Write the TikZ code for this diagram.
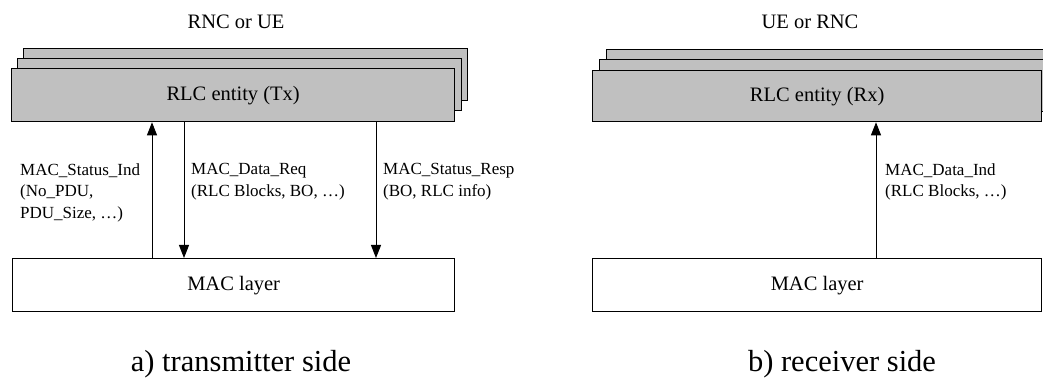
\documentclass[tikz,border=0pt]{standalone}
\usepackage{fontspec}
\setmainfont{Liberation Serif}
\usetikzlibrary{arrows.meta}
\definecolor{rlcgray}{RGB}{192,192,192}
\begin{document}
\begin{tikzpicture}[x=1pt,y=-1pt,
  layerbox/.style={draw=black, line width=1.3pt, anchor=north west, inner sep=0pt, minimum height=52pt, font=\fontsize{20.5}{24}\selectfont},
  rlcbox/.style={layerbox, fill=rlcgray},
  boxtext/.style={font=\fontsize{20.5}{24}\selectfont, anchor=base, inner sep=0pt},
  sigtext/.style={font=\fontsize{17}{21.5}\selectfont, align=left, anchor=north west, inner sep=0pt},
  captext/.style={font=\fontsize{30.5}{36}\selectfont, anchor=base, inner sep=0pt},
  sig/.style={line width=1pt, -{Triangle[length=13pt,width=10pt]}}
]
\useasboundingbox (0,0) rectangle (1043,379);
\clip (0,0) rectangle (1043,379);
\fill[white] (0,0) rectangle (1043,379);

% ---- a) transmitter side
\node[boxtext] (ta) at (236,29) {RNC or UE};
\node[rlcbox, minimum width=444pt] (backa) at (23,48) {};
\node[rlcbox, minimum width=444pt] (mida) at (17,58) {};
\node[rlcbox, minimum width=443pt, minimum height=53pt] (rlca) at (11,68) {RLC entity (Tx)};
\node[layerbox, minimum width=442pt, minimum height=53pt] (maca) at (12,258) {MAC layer};

\coordinate (xa1) at (152,0);
\coordinate (xa2) at (184,0);
\coordinate (xa3) at (376,0);
\draw[sig] (maca.north -| xa1) -- (rlca.south -| xa1);
\draw[sig] (rlca.south -| xa2) -- (maca.north -| xa2);
\draw[sig] (rlca.south -| xa3) -- (maca.north -| xa3);

\node[sigtext] (la1) at (20,163.5) {MAC\_Status\_Ind\\(No\_PDU,\\PDU\_Size, …)};
\node[sigtext] (la2) at (191,163.5) {MAC\_Data\_Req\\(RLC Blocks, BO, …)};
\node[sigtext] (la3) at (383,163.5) {MAC\_Status\_Resp\\(BO, RLC info)};

\node[captext] (capa) at (241,371) {a) transmitter side};

% ---- b) receiver side
\node[boxtext] (tb) at (810,29) {UE or RNC};
\node[rlcbox, minimum width=449pt] (backb) at (606,49) {};
\node[rlcbox, minimum width=449pt] (midb) at (599,59) {};
\node[rlcbox, minimum width=449pt, minimum height=51pt] (rlcb) at (592,70) {RLC entity (Rx)};
\node[layerbox, minimum width=449pt, minimum height=53pt] (macb) at (592,258) {MAC layer};

\coordinate (xb1) at (876,0);
\draw[sig] (macb.north -| xb1) -- (rlcb.south -| xb1);

\node[sigtext] (lb1) at (885,163.5) {MAC\_Data\_Ind\\(RLC Blocks, …)};

\node[captext] (capb) at (842,371) {b) receiver side};
\end{tikzpicture}
\end{document}
